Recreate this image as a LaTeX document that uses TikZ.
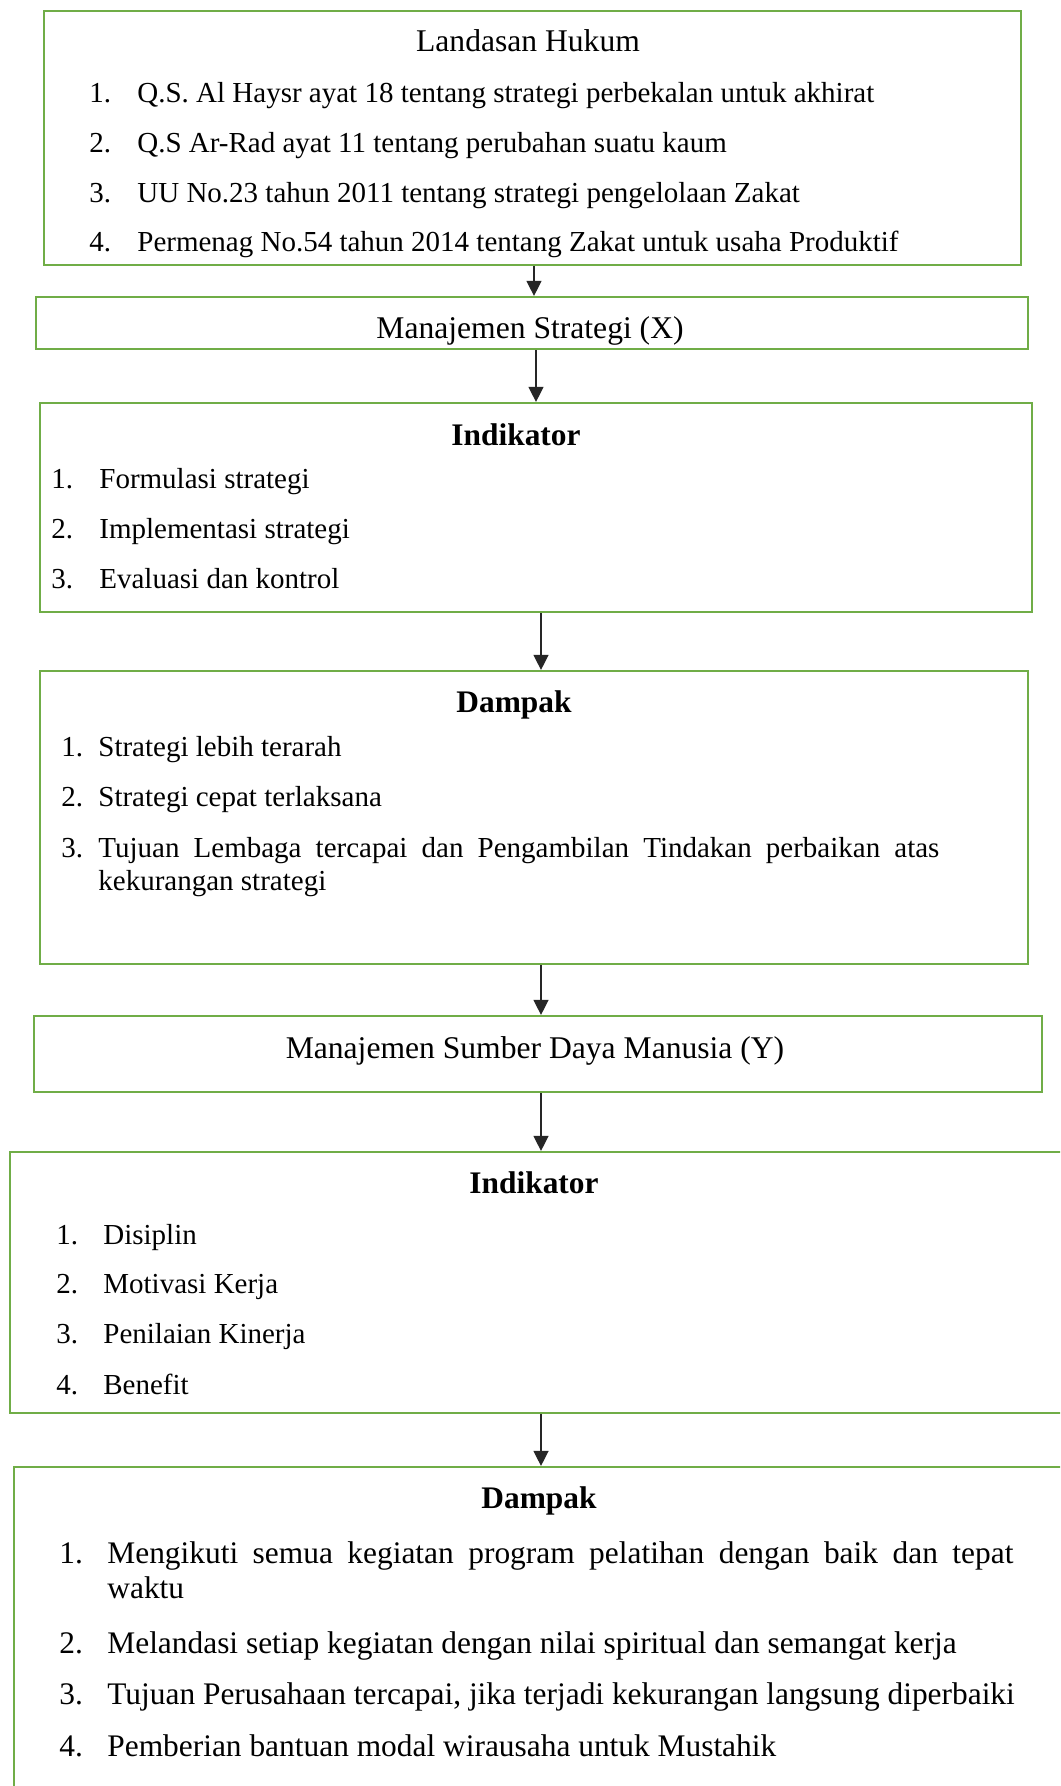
\documentclass[tikz,border=0pt]{standalone}
\usepackage{fontspec}
\setmainfont{Liberation Serif}
\usetikzlibrary{fit,arrows.meta}
\definecolor{gbord}{HTML}{70AD47}
\begin{document}
\begin{tikzpicture}[x=0.5pt,y=-0.5pt,
  gbox/.style={draw=gbord, line width=1.1pt, inner sep=0pt},
  arr/.style={draw=black!85, line width=0.65pt, -{Triangle[length=7.5pt,width=7.5pt]}},
  itm/.style={inner sep=0pt, anchor=base west, font=\fontsize{14.5pt}{17pt}\selectfont},
  itmb/.style={inner sep=0pt, anchor=base west, font=\fontsize{15.7pt}{18pt}\selectfont},
  ttl/.style={inner sep=0pt, anchor=base, font=\fontsize{15.8pt}{18pt}\selectfont},
  ttlb/.style={inner sep=0pt, anchor=base, font=\fontsize{15.7pt}{18pt}\selectfont\bfseries}]
\useasboundingbox (0,0) rectangle (1060,1786);
\clip (0,0) rectangle (1060,1786);
\fill[white] (0,0) rectangle (1060,1786);

% boxes
\node[gbox, fit={(44,11) (1021,265)}] (b1) {};
\node[gbox, fit={(36,297) (1028,349)}] (b2) {};
\node[gbox, fit={(40,403) (1032,612)}] (b3) {};
\node[gbox, fit={(40,671) (1028,964)}] (b4) {};
\node[gbox, fit={(34,1016) (1042,1092)}] (b5) {};
\node[gbox, fit={(10,1152) (1110,1413)}] (b6) {};
\node[gbox, fit={(14,1467) (1110,1850)}] (b7) {};

% arrows
\coordinate (c1) at (534,0);
\coordinate (c2) at (536,0);
\coordinate (c3) at (541,0);
\draw[arr] (b1.south -| c1) -- (b2.north -| c1);
\draw[arr] (b2.south -| c2) -- (b3.north -| c2);
\draw[arr] (b3.south -| c3) -- (b4.north -| c3);
\draw[arr] (b4.south -| c3) -- (b5.north -| c3);
\draw[arr] (b5.south -| c3) -- (b6.north -| c3);
\draw[arr] (b6.south -| c3) -- (b7.north -| c3);

% box 1
\node[ttl] (t1) at (528,52) {Landasan Hukum};
\node[itm] (n11) at (89,103) {1.};
\node[itm] (i11) at (137,103) {Q.S. Al Haysr ayat 18 tentang strategi perbekalan untuk akhirat};
\node[itm] (n12) at (89,153) {2.};
\node[itm] (i12) at (137,153) {Q.S Ar-Rad ayat 11 tentang perubahan suatu kaum};
\node[itm] (n13) at (89,203) {3.};
\node[itm] (i13) at (137,203) {UU No.23 tahun 2011 tentang strategi pengelolaan Zakat};
\node[itm] (n14) at (89,252) {4.};
\node[itm] (i14) at (137,252) {Permenag No.54 tahun 2014 tentang Zakat untuk usaha Produktif};

% box 2
\node[ttl] (t2) at (530,339) {Manajemen Strategi (X)};

% box 3
\node[ttlb] (t3) at (516,445) {Indikator};
\node[itm] (n31) at (51,488) {1.};
\node[itm] (i31) at (99,488) {Formulasi strategi};
\node[itm] (n32) at (51,538) {2.};
\node[itm] (i32) at (99,538) {Implementasi strategi};
\node[itm] (n33) at (51,588) {3.};
\node[itm] (i33) at (99,588) {Evaluasi dan kontrol};

% box 4
\node[ttlb] (t4) at (514,712) {Dampak};
\node[itm] (n41) at (61,756) {1.};
\node[itm] (i41) at (98,756) {Strategi lebih terarah};
\node[itm] (n42) at (61,806) {2.};
\node[itm] (i42) at (98,806) {Strategi cepat terlaksana};
\node[itm] (n43) at (61,857) {3.};
\node[itm] (i43) at (98,857) {\makebox[420.5pt][s]{Tujuan Lembaga tercapai dan Pengambilan Tindakan perbaikan atas}};
\node[itm] (i43b) at (98,890) {kekurangan strategi};

% box 5
\node[ttl] (t5) at (535,1058) {Manajemen Sumber Daya Manusia (Y)};

% box 6
\node[ttlb] (t6) at (534,1193) {Indikator};
\node[itm] (n61) at (56,1244) {1.};
\node[itm] (i61) at (103,1244) {Disiplin};
\node[itm] (n62) at (56,1293) {2.};
\node[itm] (i62) at (103,1293) {Motivasi Kerja};
\node[itm] (n63) at (56,1343) {3.};
\node[itm] (i63) at (103,1343) {Penilaian Kinerja};
\node[itm] (n64) at (56,1394) {4.};
\node[itm] (i64) at (103,1394) {Benefit};

% box 7
\node[ttlb] (t7) at (539,1508) {Dampak};
\node[itmb] (n71) at (59,1563) {1.};
\node[itmb] (i71) at (107,1563) {\makebox[453pt][s]{Mengikuti semua kegiatan program pelatihan dengan baik dan tepat}};
\node[itmb] (i71b) at (107,1598) {waktu};
\node[itmb] (n72) at (59,1653) {2.};
\node[itmb] (i72) at (107,1653) {Melandasi setiap kegiatan dengan nilai spiritual dan semangat kerja};
\node[itmb] (n73) at (59,1704) {3.};
\node[itmb] (i73) at (107,1704) {Tujuan Perusahaan tercapai, jika terjadi kekurangan langsung diperbaiki};
\node[itmb] (n74) at (59,1756) {4.};
\node[itmb] (i74) at (107,1756) {Pemberian bantuan modal wirausaha untuk Mustahik};
\end{tikzpicture}
\end{document}
